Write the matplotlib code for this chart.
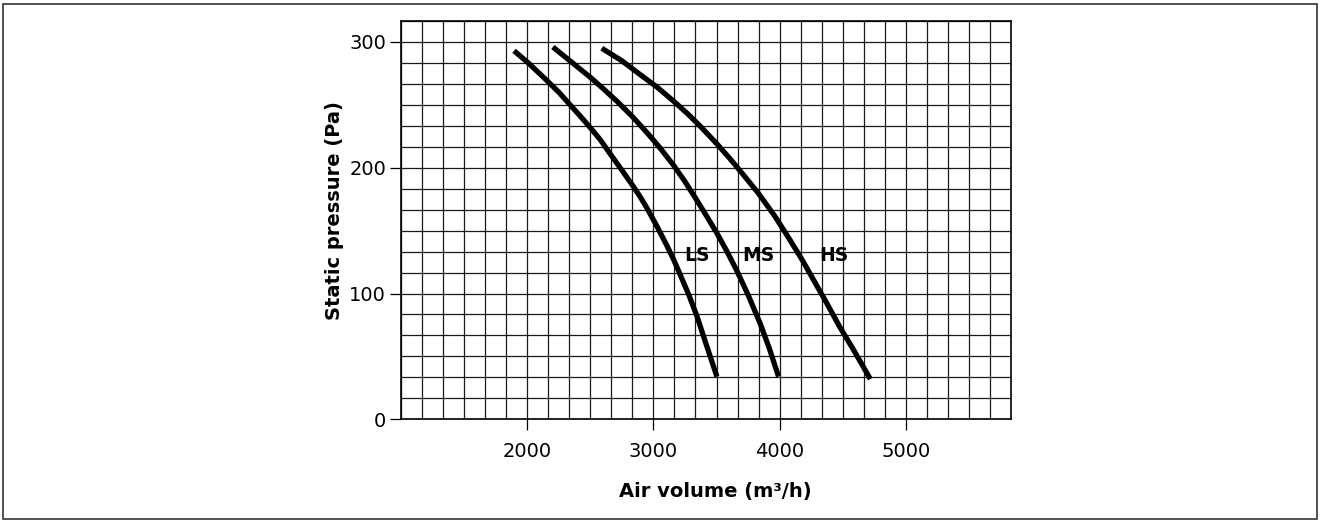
import matplotlib.pyplot as plt
from matplotlib.ticker import MultipleLocator
from matplotlib.patches import Rectangle

# === data ===
ls_flow = [1894, 2000, 2127, 2250, 2339, 2420, 2498, 2580, 2657, 2750, 2841,
           2900, 2948, 3030, 3107, 3160, 3212, 3280, 3345, 3420, 3503]
ls_pres = [293, 284, 272, 260, 250, 241, 232, 222, 211, 198, 185,
           176, 168, 153, 138, 127, 115, 99, 82, 59, 34]

ms_flow = [2202, 2350, 2498, 2600, 2709, 2830, 2948, 3050, 3159, 3250, 3345,
           3425, 3503, 3580, 3662, 3750, 3847, 3920, 3992]
ms_pres = [296, 284, 272, 263, 253, 241, 228, 216, 202, 189, 174,
           161, 148, 134, 118, 99, 76, 56, 34]

hs_flow = [2590, 2750, 2895, 3030, 3159, 3270, 3371, 3503, 3600, 3700, 3830,
           3966, 4080, 4178, 4280, 4376, 4480, 4588, 4720]
hs_pres = [295, 285, 274, 264, 253, 243, 233, 219, 208, 196, 180,
           161, 143, 127, 109, 92, 73, 55, 32]

curve_names = ["LS", "MS", "HS"]
label_flow = [3345, 3833, 4434]
label_pres = [130, 130, 130]

x_ticks = [2000, 3000, 4000, 5000]
y_ticks = [0, 100, 200, 300]

# === figure ===
fig = plt.figure(figsize=(13.2, 5.21), dpi=100)
ax = fig.add_axes([0.304, 0.1952, 0.4617, 0.7645])

ax.set_xlim(1000, 5833.3)
ax.set_ylim(0, 316.67)

ax.xaxis.set_minor_locator(MultipleLocator(1000 / 6))
ax.yaxis.set_minor_locator(MultipleLocator(100 / 6))
ax.set_xticks(x_ticks)
ax.set_yticks(y_ticks)
ax.grid(which="both", color="#1a1a1a", linewidth=0.9)
ax.set_axisbelow(True)
ax.tick_params(which="minor", length=0)
ax.tick_params(which="major", direction="out", length=8, width=0.9,
               labelsize=14)
ax.tick_params(axis="x", pad=8)
ax.tick_params(axis="y", pad=3)

for s in ax.spines.values():
    s.set_linewidth(1.2)
    s.set_color("black")

for fx, py in [(ls_flow, ls_pres), (ms_flow, ms_pres), (hs_flow, hs_pres)]:
    ax.plot(fx, py, color="black", linewidth=3.8, solid_capstyle="butt",
            solid_joinstyle="round", zorder=3)

for name, fx, py in zip(curve_names, label_flow, label_pres):
    ax.text(fx, py, name, ha="center", va="center", fontsize=13.5,
            fontweight="bold", zorder=4)

ax.set_xlabel("Air volume (m³/h)", fontsize=14, fontweight="bold")
ax.set_ylabel("Static pressure (Pa)", fontsize=14, fontweight="bold")
ax.xaxis.set_label_coords(0.516, -0.158)
ax.yaxis.set_label_coords(-0.094, 0.523)

# outer frame round the figure
fig.patches.append(Rectangle((0.0025, 0.003), 0.9955, 0.989,
                             transform=fig.transFigure, fill=False,
                             edgecolor="#333333", linewidth=1.2))

plt.savefig("out.png", dpi=100)
